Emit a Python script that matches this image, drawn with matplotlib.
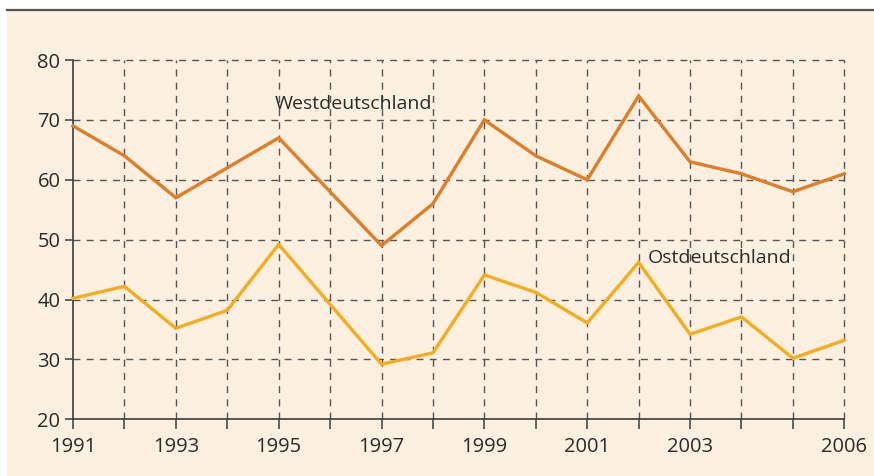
import matplotlib
matplotlib.use("Agg")
import matplotlib.pyplot as plt
from matplotlib.patches import Rectangle
from matplotlib.lines import Line2D

years = list(range(1991, 2007))
west = [69, 64, 57, 62, 67, 58, 49, 56, 70, 64, 60, 74, 63, 61, 58, 61]
east = [40.2, 42.2, 35.2, 38.2, 49.2, 39.2, 29.2, 31.1, 44.1, 41.2, 36.1, 46.2, 34.2, 37.1, 30.2, 33.2]
x_ticklabels = {1991: "1991", 1993: "1993", 1995: "1995", 1997: "1997",
                1999: "1999", 2001: "2001", 2003: "2003", 2006: "2006"}
y_ticks = [20, 30, 40, 50, 60, 70, 80]
label_west = "Westdeutschland"
label_east = "Ostdeutschland"

plt.rcParams['font.family'] = ['Open Sans', 'DejaVu Sans']
bg = "#fdf0e0"
txt = "#2b2b2b"
axc = "#3c3c3c"

fig = plt.figure(figsize=(8.74, 4.76), dpi=100)
fig.patch.set_facecolor("white")
# background panel
fig.add_artist(Rectangle((7/874, 0), 1 - 7/874, 1 - 10/476, transform=fig.transFigure,
                         facecolor=bg, edgecolor="none", zorder=0))
fig.add_artist(Line2D([7/874, 1], [1 - 9.5/476, 1 - 9.5/476], transform=fig.transFigure,
                      color="#555555", lw=1.6))

ax = fig.add_axes([73/874, 1 - 419.3/476, (844.3 - 73)/874, (419.3 - 60)/476])
ax.set_facecolor("none")
ax.set_xlim(1991, 2006)
ax.set_ylim(20, 80)

ax.plot(years, west, color="#e07d25", lw=2.4, clip_on=False, zorder=3, solid_joinstyle="miter")
ax.plot(years, east, color="#f7ac1e", lw=2.4, clip_on=False, zorder=3, solid_joinstyle="miter")

ax.set_xticks(years)
ax.set_xticklabels([x_ticklabels.get(y, "") for y in years])
ax.set_yticks(y_ticks)
ax.set_yticklabels([str(v) for v in y_ticks])

for s in ["top", "right"]:
    ax.spines[s].set_visible(False)
for s in ["left", "bottom"]:
    ax.spines[s].set_color(axc)
    ax.spines[s].set_linewidth(1.2)

ax.tick_params(axis="x", length=7, width=1.1, color=axc, labelsize=14.5, labelcolor=txt, pad=6)
ax.tick_params(axis="y", length=6, width=1.1, color=axc, labelsize=14.5, labelcolor=txt, pad=3)

ax.grid(True, color="#555555", lw=1.0, linestyle=(0, (5, 4.5)))
for gl in ax.get_xgridlines() + ax.get_ygridlines():
    gl.set_clip_on(False)
# hide grid lines coinciding with spines
ax.get_ygridlines()[0].set_visible(False)
ax.get_xgridlines()[0].set_visible(False)
ax.set_axisbelow(True)

ax.text(1994.93, 72.7, label_west, fontsize=14, color=txt, va="center", ha="left")
ax.text(2002.18, 46.9, label_east, fontsize=14, color=txt, va="center", ha="left")

fig.savefig("out.png", dpi=100, facecolor=fig.get_facecolor())
